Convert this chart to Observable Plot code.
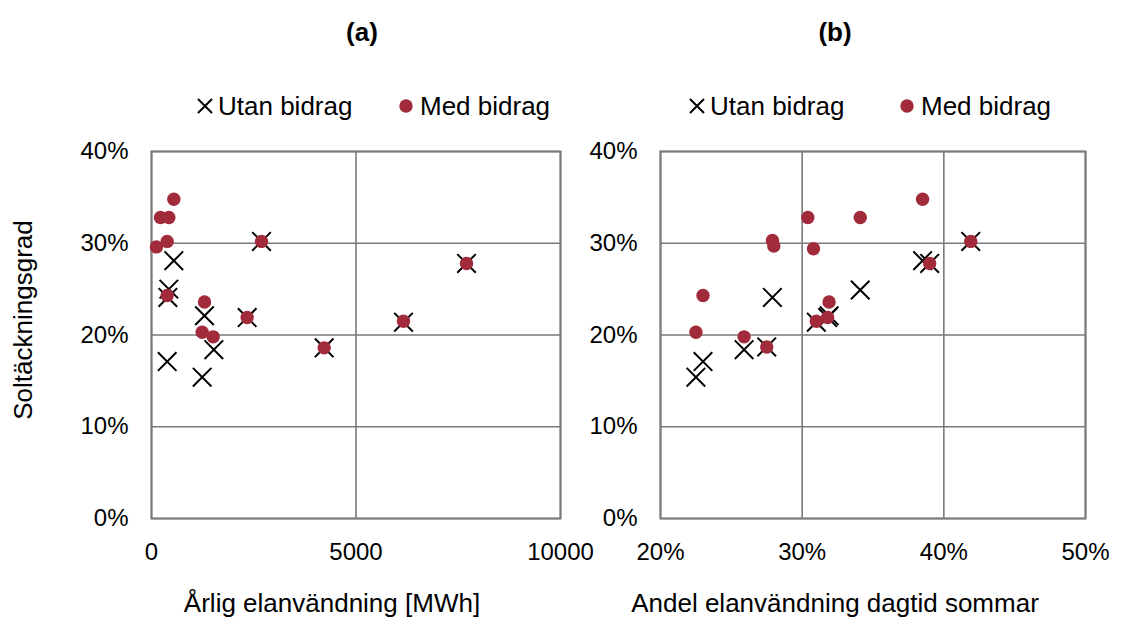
<!DOCTYPE html>
<html>
<head>
<meta charset="utf-8">
<script src="https://cdn.jsdelivr.net/npm/d3@7"></script>
<script src="https://cdn.jsdelivr.net/npm/@observablehq/plot@0.6"></script>
<style>
  html, body { margin: 0; padding: 0; background: #fff; }
  #chart { position: relative; width: 1127px; height: 619px; overflow: hidden; font-family: "Liberation Sans", Arial, sans-serif; }
  #chart > svg { position: absolute; }
</style>
</head>
<body>
<div id="chart"></div>
<script>
// ---- Data ----
const panelTitles = ["(a)", "(b)"];
const legendLabels = ["Utan bidrag", "Med bidrag"];
const yLabel = "Soltäckningsgrad";
const xLabelA = "Årlig elanvändning [MWh]";
const xLabelB = "Andel elanvändning dagtid sommar";

// Panel (a): annual electricity use [MWh] vs solar coverage [%]
const aUtanX = [546, 424, 400, 383, 1296, 1239, 1524, 2339, 2690, 4222, 6161, 7702];
const aUtanY = [28.1, 25.0, 24.1, 17.1, 22.1, 15.4, 18.4, 21.9, 30.2, 18.6, 21.4, 27.8];
const aMedX = [120, 220, 424, 383, 546, 383, 1296, 1239, 1508, 2339, 2690, 4222, 6161, 7702];
const aMedY = [29.6, 32.8, 32.8, 30.2, 34.8, 24.3, 23.6, 20.3, 19.8, 21.9, 30.2, 18.6, 21.5, 27.8];

// Panel (b): daytime summer share of electricity use [%] vs solar coverage [%]
const bUtanX = [22.5, 23.0, 25.9, 27.5, 27.9, 31.0, 31.9, 31.8, 34.1, 38.5, 39.0, 41.9];
const bUtanY = [15.4, 17.1, 18.4, 18.7, 24.1, 21.4, 22.1, 21.9, 24.9, 28.1, 27.8, 30.2];
const bMedX = [23.0, 22.5, 25.9, 27.5, 27.9, 28.0, 30.4, 30.8, 31.0, 31.8, 31.9, 34.1, 38.5, 39.0, 41.9];
const bMedY = [24.3, 20.3, 19.8, 18.7, 30.3, 29.7, 32.8, 29.4, 21.5, 21.9, 23.6, 32.8, 34.8, 27.8, 30.2];

const yTicks = [0, 10, 20, 30, 40];
const xTicksA = [0, 5000, 10000];
const xTicksB = [20, 30, 40, 50];

// ---- Build ----
const RED = "#a12a3b";
const GRID = "#7a7a7a";
const zip = (xs, ys) => xs.map((x, i) => ({x, y: ys[i]}));

function panel({utan, med, xDomain, xTicks, xFormat, width, marginLeft, marginRight}) {
  return Plot.plot({
    width, height: 480,
    marginLeft, marginRight, marginTop: 51, marginBottom: 62,
    style: {background: "transparent", overflow: "visible", fontFamily: "Liberation Sans, Arial, sans-serif", color: "#000"},
    x: {domain: xDomain},
    y: {domain: [0, 40]},
    marks: [
      Plot.gridX(xTicks, {stroke: GRID, strokeOpacity: 1, strokeWidth: 1.6}),
      Plot.gridY(yTicks, {stroke: GRID, strokeOpacity: 1, strokeWidth: 1.6}),
      Plot.frame({stroke: GRID, strokeWidth: 2}),
      Plot.axisX({ticks: xTicks, tickFormat: xFormat, tickSize: 0, tickPadding: 24, fontSize: 24, label: null}),
      Plot.axisY({ticks: yTicks, tickFormat: d => d + "%", tickSize: 0, tickPadding: 23, fontSize: 24, label: null}),
      Plot.dot(utan, {x: "x", y: "y", symbol: "times", r: 8.5, stroke: "#000", strokeWidth: 2}),
      Plot.dot(med, {x: "x", y: "y", r: 6.7, fill: RED, stroke: null})
    ]
  });
}

const chart = document.getElementById("chart");

const pa = panel({
  utan: zip(aUtanX, aUtanY), med: zip(aMedX, aMedY),
  xDomain: [0, 10000], xTicks: xTicksA, xFormat: d => String(d),
  width: 580, marginLeft: 151, marginRight: 20
});
pa.style.left = "0px"; pa.style.top = "100px";
chart.appendChild(pa);

const pb = panel({
  utan: zip(bUtanX, bUtanY), med: zip(bMedX, bMedY),
  xDomain: [20, 50], xTicks: xTicksB, xFormat: d => d + "%",
  width: 547, marginLeft: 80, marginRight: 42
});
pb.style.left = "580px"; pb.style.top = "100px";
chart.appendChild(pb);

// Overlay: titles, legends, axis titles
const ov = d3.select(chart).append("svg")
  .attr("width", 1127).attr("height", 619)
  .style("left", "0px").style("top", "0px")
  .style("font-family", "Liberation Sans, Arial, sans-serif")
  .style("pointer-events", "none");

[[362, panelTitles[0]], [835, panelTitles[1]]].forEach(([cx, t]) => {
  ov.append("text").attr("x", cx).attr("y", 41).attr("text-anchor", "middle")
    .attr("font-size", 26).attr("font-weight", "bold").text(t);
});

[[205, 406], [697, 907]].forEach(([xc, dc]) => {
  const g = ov.append("g");
  g.append("path").attr("d", `M${xc - 7},${106 - 7}L${xc + 7},${106 + 7}M${xc - 7},${106 + 7}L${xc + 7},${106 - 7}`)
    .attr("stroke", "#000").attr("stroke-width", 2);
  g.append("text").attr("x", xc + 13).attr("y", 115).attr("font-size", 26).text(legendLabels[0]);
  g.append("circle").attr("cx", dc).attr("cy", 106).attr("r", 6.7).attr("fill", RED);
  g.append("text").attr("x", dc + 14).attr("y", 115).attr("font-size", 26).text(legendLabels[1]);
});

ov.append("text").attr("transform", "translate(32,320) rotate(-90)")
  .attr("text-anchor", "middle").attr("font-size", 26).text(yLabel);
ov.append("text").attr("x", 332).attr("y", 612).attr("text-anchor", "middle")
  .attr("font-size", 26).text(xLabelA);
ov.append("text").attr("x", 835).attr("y", 612).attr("text-anchor", "middle")
  .attr("font-size", 26).text(xLabelB);
</script>
</body>
</html>
